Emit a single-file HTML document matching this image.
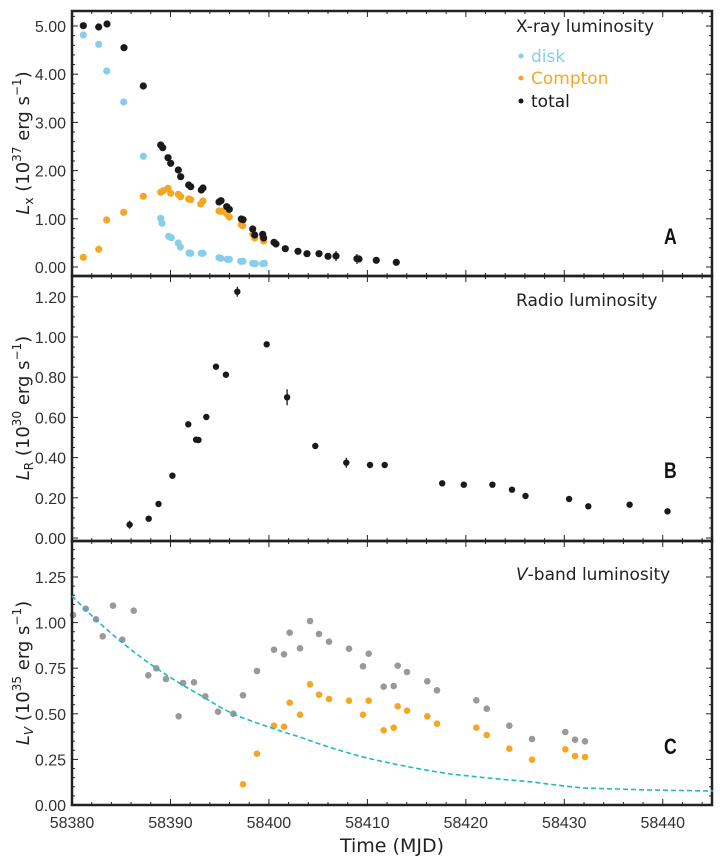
<!DOCTYPE html>
<html><head><meta charset="utf-8"><style>
body{margin:0;background:#fff}
svg{display:block;font-family:"DejaVu Sans","Liberation Sans",sans-serif}
</style></head><body>
<svg id="s" width="720" height="861" viewBox="0 0 720 861" xmlns="http://www.w3.org/2000/svg">
<rect width="720" height="861" fill="#fff"/>
<g id="g"></g>
<polyline id="curve" fill="none" stroke="#20b9c4" stroke-width="1.6" stroke-dasharray="5,3" points=""/>
<text x="516" y="32" font-size="17" fill="#222">X-ray luminosity</text>
<circle cx="521" cy="56" r="2.5" fill="#87ceeb"/><text x="531" y="62" font-size="17" fill="#87ceeb">disk</text>
<circle cx="521" cy="78" r="2.5" fill="#f5a623"/><text x="531" y="84" font-size="17" fill="#f5a623">Compton</text>
<circle cx="521" cy="101" r="2.5" fill="#1a1a1a"/><text x="531" y="107" font-size="17" fill="#1a1a1a">total</text>
<text x="516" y="306" font-size="17" fill="#222">Radio luminosity</text>
<text x="516" y="580" font-size="17" fill="#222"><tspan font-style="italic">V</tspan>-band luminosity</text>
<g font-family="Liberation Sans, sans-serif" font-size="22" font-weight="bold" fill="#111">
<text transform="translate(664,244) scale(0.8,1)">A</text>
<text transform="translate(664,478) scale(0.8,1)">B</text>
<text transform="translate(664,754) scale(0.8,1)">C</text>
</g>
<text x="392" y="852" font-size="19" text-anchor="middle" fill="#222">Time (MJD)</text>
<text transform="translate(29,143) rotate(-90)" font-size="18" text-anchor="middle" fill="#222"><tspan font-style="italic">L</tspan><tspan font-size="12" dy="4">x</tspan><tspan dy="-4"> (10</tspan><tspan font-size="12" dy="-8">37</tspan><tspan dy="8"> erg s</tspan><tspan font-size="12" dy="-8">−1</tspan><tspan dy="8">)</tspan></text>
<text transform="translate(29,408) rotate(-90)" font-size="18" text-anchor="middle" fill="#222"><tspan font-style="italic">L</tspan><tspan font-size="12" dy="4">R</tspan><tspan dy="-4"> (10</tspan><tspan font-size="12" dy="-8">30</tspan><tspan dy="8"> erg s</tspan><tspan font-size="12" dy="-8">−1</tspan><tspan dy="8">)</tspan></text>
<text transform="translate(29,673) rotate(-90)" font-size="18" text-anchor="middle" fill="#222"><tspan font-style="italic">L</tspan><tspan font-size="12" font-style="italic" dy="4">V</tspan><tspan dy="-4"> (10</tspan><tspan font-size="12" dy="-8">35</tspan><tspan dy="8"> erg s</tspan><tspan font-size="12" dy="-8">−1</tspan><tspan dy="8">)</tspan></text>
</svg>
<script>
var g=document.getElementById('g'),h='';
function L(x1,y1,x2,y2,w,c){h+='<line x1="'+x1+'" y1="'+y1+'" x2="'+x2+'" y2="'+y2+'" stroke="'+(c||'#222')+'" stroke-width="'+(w||1)+'"/>';}
function T(x,y,s,a){h+='<text x="'+x+'" y="'+y+'" font-family="Liberation Sans, sans-serif" font-size="16" fill="#333" text-anchor="'+(a||'end')+'">'+s+'</text>';}
function C(x,y,c,r){h+='<circle cx="'+x+'" cy="'+y+'" r="'+(r||3.6)+'" fill="'+c+'"/>';}
var X0=72,X1=712,sx=9.846;
var panels=[[11,276],[276,541],[541,805]];
panels.forEach(function(p){
 for(var m=58380;m<=58444;m+=2){var x=X0+(m-58380)*sx,len=(m%10==0)?6:3;L(x,p[1],x,p[1]-len);L(x,p[0],x,p[0]+len);}
});
for(var m=58380;m<=58440;m+=10)T(X0+(m-58380)*sx,828,m,'middle');
function yt(top,bot,y0,sc,step,mstep,dec){
 for(var v=0;y0-v*sc>=top-0.5;v+=mstep){var y=y0-v*sc,maj=Math.abs(v/step-Math.round(v/step))<1e-6;var len=maj?6:3;L(X0,y,X0+len,y);L(X1,y,X1-len,y);
  if(maj)T(66,y+6,v.toFixed(dec));}
}
yt(11,276,267,48.2,1,0.2,2);
yt(276,541,538,201,0.2,0.05,2);
yt(541,805,805,182.4,0.25,0.05,2);
// curve
var an=[[72,209],[156,137],[200,110],[233,91],[300,68],[367,47],[450,31],[533,23],[583,17],[650,15],[713,14]],pts=[];
for(var i=0;i<an.length-1;i++){var a=an[i],b=an[i+1];for(var k=0;k<8;k++){var t=k/8,x=a[0]+(b[0]-a[0])*t,hh=Math.exp(Math.log(a[1])*(1-t)+Math.log(b[1])*t);pts.push(x.toFixed(1)+','+(805-hh).toFixed(1));}}
pts.push('713,791');
document.getElementById('curve').setAttribute('points',pts.join(' '));
var K='#1a1a1a',B='#87ceeb',O='#f5a623',G='#999';
var blue=[[83.3,35],[98.7,44.3],[106.7,71],[123.7,102],[143.3,156.3],[160.7,218.3],[162,223.3],[168.7,236.3],[171.3,237.7],[178.3,243],[180.3,247],[189,253],[190.7,253.3],[201.3,253.3],[203,253.3],[219,257.7],[221,258.3],[227.3,259.3],[229.3,259.3],[240.7,261.3],[243,261.3],[252.7,263.3],[255.3,263.7],[262.7,263.7],[264.3,263.3]];
var org=[[83.3,257.3],[98.7,249.3],[106.7,220],[123.7,212.3],[143.3,196.3],[160.7,192.3],[163.3,190.7],[168,188.3],[170.7,193.3],[178.3,194.3],[180.7,196.7],[188.7,199],[190.7,199.7],[200.7,204],[203,201],[219,211],[221.3,211.3],[226.7,213.7],[229.3,217],[241.3,224.7],[242.7,225.7],[252.7,234],[254.7,238],[262.7,237.7],[263.7,241]];
var blk=[[83.3,25.7],[98.7,27],[107,24],[124,47.7],[143.3,86],[160.7,145],[162.7,147.7],[168,157.7],[170.7,163.3],[178.3,170],[180.7,176.7],[188.7,185],[190.7,186.7],[201.3,190],[203,188],[219,202],[221,200.7],[226.7,206.7],[229.3,209.3],[241.3,219],[243,219.7],[252.7,229],[254.7,235],[262.7,234.3],[263.7,238],[274,242.3],[276,244],[285.3,248.7],[298,251.3],[307,253.7],[319,253.7],[328,256.3],[336,256],[357,258.7],[359,259],[376.3,260.3],[396.3,262.3]];
blue.forEach(function(p){C(p[0],p[1],B)});org.forEach(function(p){C(p[0],p[1],O)});
L(336,251,336,261,1.2,K);L(357,254,357,264,1.2,K);
blk.forEach(function(p){C(p[0],p[1],K)});
var rad=[[129.6,524.7,4],[148.7,518.7],[158.5,504],[172.4,475.7],[188.3,424.3],[196.1,439.7],[198.5,440],[206.3,417],[216,366.7],[225.9,374.7],[237.3,291.7,5],[266.7,344.3],[287.1,397.3,8],[315.3,446],[346.3,462.7,5],[370,465],[384.7,465],[442.2,483.3],[463.8,484.7],[492.4,484.7],[512,489.7],[525.5,496],[569.1,499],[588.3,506.3],[629.6,504.7],[667.5,511.3]];
rad.forEach(function(p){if(p[2])L(p[0],p[1]-p[2],p[0],p[1]+p[2],1.3,K);C(p[0],p[1],K,3.2)});
var grey=[[73,615],[85.7,608.7],[96,619.3],[102.7,636.3],[113,605.7],[122.3,639.7],[133.7,610.7],[148.3,675.3],[156.3,668.3],[166,679],[178.7,716.3],[183,683],[194,682.3],[205.3,696.3],[218,711.7],[233.3,713.7],[243,695.3],[257,671],[274,649.7],[284,654.3],[289.7,632.7],[300,648.3],[310,621],[319,634],[329,641.7],[349,648.7],[363,666.3],[368.7,653.7],[383.7,686.7],[393.7,686],[397.7,665.7],[407,672],[427.3,681.3],[437,690.3],[476.3,700.3],[486.7,708.7],[509.3,725.7],[532,739],[565.3,732],[575,739.7],[585,741.3]];
var og=[[243,784.3],[257,753.7],[274,725.7],[284,726.7],[289.7,702.7],[300,714.7],[310,684.3],[319,694.7],[329,699],[349,700.7],[363,714.7],[368.7,700.7],[383.7,730.3],[393.7,727.7],[397.7,706.3],[407,710.7],[427.3,716.3],[437,723.7],[476.3,727.7],[486.7,735],[509.3,748.7],[532,759.7],[565.3,749.3],[575,756],[585,757]];
grey.forEach(function(p){C(p[0],p[1],G,3.3)});og.forEach(function(p){C(p[0],p[1],O,3.3)});
panels.forEach(function(p){h+='<rect x="'+X0+'" y="'+p[0]+'" width="'+(X1-X0)+'" height="'+(p[1]-p[0])+'" fill="none" stroke="#222" stroke-width="2.5"/>';});
g.innerHTML=h;
</script>
</body></html>
